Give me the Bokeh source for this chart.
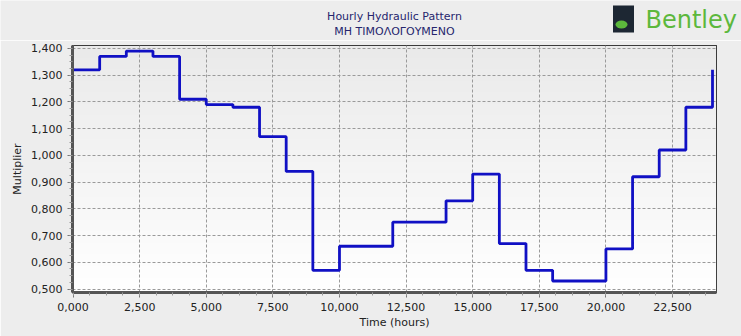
import numpy as np
from bokeh.plotting import figure
from bokeh.layouts import column
from bokeh.models import FixedTicker, CustomJSTickFormatter, Range1d
from bokeh.core.properties import value
from bokeh.embed import file_html
from bokeh.resources import INLINE

# ---- data ----
hours = list(range(25))
multiplier = [1.32, 1.37, 1.39, 1.37, 1.21, 1.19, 1.18, 1.07, 0.94, 0.57,
              0.66, 0.66, 0.75, 0.75, 0.83, 0.93, 0.67, 0.57, 0.53, 0.53,
              0.65, 0.92, 1.02, 1.18, 1.32]
x_ticks = [0.0, 2.5, 5.0, 7.5, 10.0, 12.5, 15.0, 17.5, 20.0, 22.5]
y_ticks = [0.5, 0.6, 0.7, 0.8, 0.9, 1.0, 1.1, 1.2, 1.3, 1.4]
title_1 = "Hourly Hydraulic Pattern"
title_2 = "ΜΗ ΤΙΜΟΛΟΓΟΥΜΕΝΟ"
logo_text = "Bentley"
x_title = "Time (hours)"
y_title = "Multiplier"

X0, X1 = -0.02, 24.15
Y0, Y1 = 0.487, 1.411
FONT = "DejaVu Sans"
BG = "#ededed"
HEADER_H = 40

# ---- header (title + logo), coordinates = canvas pixels ----
h = figure(width=741, height=HEADER_H, output_backend="svg", toolbar_location=None,
           x_range=Range1d(0, 741), y_range=Range1d(HEADER_H, 0),
           min_border=0, x_axis_type=None, y_axis_type=None)
h.frame_align = False
h.grid.visible = False
h.outline_line_color = None
h.background_fill_color = BG
h.border_fill_color = BG
h.text(x=[394, 394], y=[16, 31], text=[title_1, title_2], text_align="center",
       text_baseline="middle", text_font=value(FONT), text_font_size="11px",
       text_color="#26266e")
# logo mark
h.rect(x=[623], y=[18.5], width=[21], height=[27], fill_color="#1d2733",
       line_color=None)
h.ellipse(x=[621], y=[24], width=[12], height=[8], fill_color="#5cb83c",
          line_color=None)
h.text(x=[645], y=[19], text=[logo_text], text_align="left", text_baseline="middle",
       text_font=value(FONT), text_font_size="24px", text_color="#5cb83c")

# ---- main chart ----
p = figure(width=741, height=336 - HEADER_H, output_backend="svg", toolbar_location=None,
           x_range=Range1d(X0, X1), y_range=Range1d(Y0, Y1),
           min_border_left=72, min_border_right=25, min_border_top=5,
           min_border_bottom=44)
p.frame_align = False
p.border_fill_color = BG
p.background_fill_color = "#fafafa"
p.outline_line_color = "black"
p.outline_line_width = 1

# gradient background of the plot area
n = 64
t = np.linspace(0, 1, n)
shade = (255 - (255 - 234) * t).astype(np.uint8)
img = np.zeros((n, 1), dtype=np.uint32)
view = img.view(dtype=np.uint8).reshape((n, 1, 4))
view[:, 0, 0] = shade
view[:, 0, 1] = shade
view[:, 0, 2] = shade
view[:, 0, 3] = 255
p.image_rgba(image=[img], x=X0, y=Y0, dw=X1 - X0, dh=Y1 - Y0, level="image")

p.step(hours, multiplier, mode="after", line_color="#1010c4", line_width=2.8)

minor_x = [float(v) for v in np.arange(0, 24.2, 0.625)]
minor_y = [float(v) for v in np.arange(0.5, 1.42, 0.025)]
p.xaxis.ticker = FixedTicker(ticks=x_ticks, minor_ticks=minor_x)
p.yaxis.ticker = FixedTicker(ticks=y_ticks, minor_ticks=minor_y)
p.xaxis.formatter = CustomJSTickFormatter(code="return tick.toFixed(3).replace('.', ',');")
p.yaxis.formatter = CustomJSTickFormatter(code="return tick.toFixed(3).replace('.', ',');")

for ax in (p.xaxis, p.yaxis):
    ax.axis_line_color = "#555555"
    ax.axis_line_width = 3
    ax.major_tick_line_color = "#777777"
    ax.minor_tick_line_color = "#999999"
    ax.major_tick_out = 5
    ax.major_tick_in = 0
    ax.minor_tick_out = 3
    ax.minor_tick_in = 0
    ax.major_label_text_font = FONT
    ax.major_label_text_font_size = "11px"
    ax.major_label_text_color = "#222222"
    ax.axis_label_text_font = FONT
    ax.axis_label_text_font_size = "11px"
    ax.axis_label_text_font_style = "normal"
    ax.axis_label_text_color = "#222222"
p.xaxis.axis_label = x_title
p.yaxis.axis_label = y_title
p.xaxis.axis_label_standoff = 2
p.yaxis.axis_label_standoff = 4

p.grid.grid_line_color = "#9a9a9a"
p.grid.grid_line_dash = "3 2"
p.grid.grid_line_width = 1

layout = column(h, p, spacing=0)
open("out.html", "w").write(file_html(layout, INLINE))
